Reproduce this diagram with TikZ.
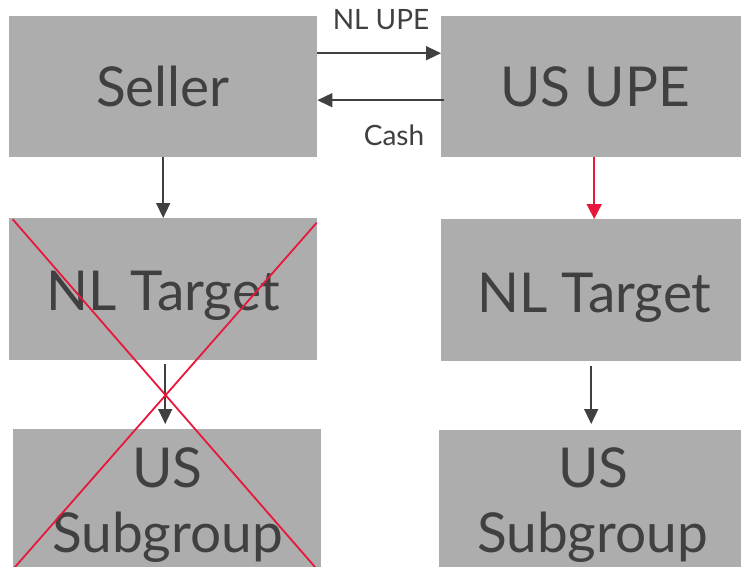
\documentclass[tikz,border=0pt]{standalone}
\usepackage{fontspec}
\setmainfont{Lato}
\usetikzlibrary{arrows.meta}
\definecolor{boxgray}{HTML}{ADADAD}
\definecolor{inkgray}{HTML}{404040}
\definecolor{crossred}{HTML}{E8173C}
\begin{document}
\begin{tikzpicture}[x=1pt,y=-1pt,
  box/.style={fill=boxgray, draw=none, inner sep=0pt, anchor=north west},
  big/.style={font=\fontsize{55}{66}\selectfont, text=inkgray, anchor=base, inner sep=0pt},
  small/.style={font=\fontsize{28}{34}\selectfont, text=inkgray, anchor=base, inner sep=0pt},
  arr/.style={draw=inkgray, line width=1.5pt, -{Triangle[length=15pt,width=14pt]}},
  redarr/.style={draw=crossred, line width=1.8pt, -{Triangle[length=15pt,width=15pt]}},
  cross/.style={draw=crossred, line width=1.8pt},
]
\useasboundingbox (0,0) rectangle (741,567);
\clip (0,0) rectangle (741,567);

% boxes
\node[box, minimum width=308pt, minimum height=141pt] (seller) at (9,16) {};
\node[box, minimum width=300pt, minimum height=141pt] (usupe)  at (441,16) {};
\node[box, minimum width=308pt, minimum height=142pt] (nlt1)   at (9,218) {};
\node[box, minimum width=300pt, minimum height=142pt] (nlt2)   at (441,219) {};
\node[box, minimum width=308pt, minimum height=145pt] (sub1)   at (13,429) {};
\node[box, minimum width=302pt, minimum height=145pt] (sub2)   at (439,430) {};

% box texts
\node[big] (tseller) at (163,107) {Seller};
\node[big] (tusupe)  at (595,107) {US UPE};
\node[big] (tnlt1)   at (163.5,310) {NL Target};
\node[big] (tnlt2)   at (594.5,312) {NL Target};
\node[big] (tus1)    at (167.5,487) {US};
\node[big] (tsub1)   at (167.5,552) {Subgroup};
\node[big] (tus2)    at (593.5,487) {US};
\node[big] (tsub2)   at (592.5,552) {Subgroup};

% flow labels
\node[small] (lupe)  at (381,30) {NL UPE};
\node[small] (lcash) at (394,145) {Cash};

% connectors (shifts are in page direction: positive yshift moves up)
\draw[arr] ([yshift=33.5pt]seller.east) -- ([yshift=33.5pt]usupe.west);
\draw[arr] ([xshift=3pt,yshift=-13.5pt]usupe.west) -- ([yshift=-13.5pt]seller.east);
\draw[arr] (seller.south) -- (nlt1.north);
\draw[redarr] ([xshift=3pt]usupe.south) -- ([xshift=3pt]nlt2.north);
\draw[arr] ([xshift=2pt,yshift=-4pt]nlt1.south) -- ([xshift=-2pt,yshift=5pt]sub1.north);
\draw[arr] ([yshift=-5pt]nlt2.south) -- ([xshift=1pt,yshift=6pt]sub2.north);

% strike-through over the left branch
\coordinate (xa1) at (12.7,219.3);
\coordinate (xa2) at (317.6,570);
\coordinate (xb1) at (316.7,222.7);
\coordinate (xb2) at (12.4,570);
\draw[cross] (xa1) -- (xa2);
\draw[cross] (xb1) -- (xb2);
\end{tikzpicture}
\end{document}
